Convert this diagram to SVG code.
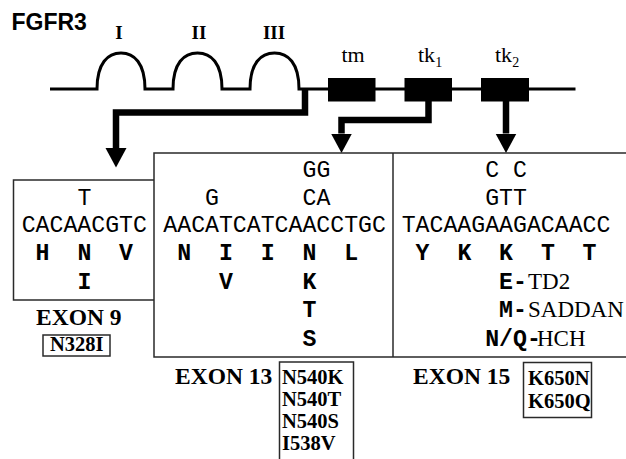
<svg xmlns="http://www.w3.org/2000/svg" width="626" height="459" viewBox="0 0 626 459">
  <style>
    .title { font-family: "Liberation Sans", Arial, sans-serif; font-weight: bold; font-size: 23px; fill: #000; }
    .roman { font-family: "Liberation Serif", "Times New Roman", serif; font-weight: bold; font-size: 19px; text-anchor: middle; fill: #000; }
    .dom { font-family: "Liberation Serif", "Times New Roman", serif; font-size: 22px; fill: #000; }
    .sub { font-size: 14px; }
    .seq { font-family: "Liberation Mono", "Courier New", monospace; font-size: 23.2px; fill: #000; }
    .aa { font-family: "Liberation Mono", "Courier New", monospace; font-size: 23.2px; font-weight: bold; fill: #000; }
    .ann { font-family: "Liberation Serif", "Times New Roman", serif; font-size: 23px; font-weight: normal; fill: #000; }
    .exon { font-family: "Liberation Serif", "Times New Roman", serif; font-weight: bold; font-size: 23.5px; fill: #000; }
    .mut { font-family: "Liberation Serif", "Times New Roman", serif; font-weight: bold; font-size: 20.5px; fill: #000; }
    .frame { fill: none; stroke: #2a2a2a; stroke-width: 1.5; }
    .backbone { fill: none; stroke: #000; stroke-width: 3; }
    .block { fill: #000; }
    .arrow { fill: none; stroke: #000; stroke-width: 6.5; stroke-linejoin: miter; }
  </style>
  <defs>
    <marker id="head" markerUnits="userSpaceOnUse" markerWidth="20" markerHeight="22" refX="0" refY="10.5" orient="auto">
      <path d="M0,0 L19.5,10.5 L0,21 z" fill="#000"/>
    </marker>
  </defs>

  <rect width="626" height="459" fill="#fff"/>

  <!-- receptor schematic -->
  <g id="fgfr3">
    <text class="title" x="11.5" y="30">FGFR3</text>
    <path class="backbone" d="M50,89 H97 C97,63 108,53 121,53 C134,53 145,63 145,89 H173 C173,63 184,53 197.5,53 C211,53 222,63 222,89 H250 C250,63 261,53 274.5,53 C288,53 299,63 299,89 H575.5"/>
    <text class="roman" x="119" y="38.5">I</text>
    <text class="roman" x="199" y="38.5">II</text>
    <text class="roman" x="274" y="38.5">III</text>
  </g>
  <g id="tm">
    <rect class="block" x="328" y="78" width="47.5" height="23.5"/>
    <text class="dom" x="341.5" y="61.5">tm</text>
  </g>
  <g id="tk1">
    <rect class="block" x="404.5" y="78" width="47.5" height="23.5"/>
    <text class="dom" x="418" y="61.5">tk<tspan class="sub" dy="5">1</tspan></text>
  </g>
  <g id="tk2">
    <rect class="block" x="481" y="78" width="48" height="23.5"/>
    <text class="dom" x="495" y="61.5">tk<tspan class="sub" dy="5">2</tspan></text>
  </g>

  <!-- connectors -->
  <g id="connectors">
    <path class="arrow" d="M305,89 V112.5 H116 V148" marker-end="url(#head)"/>
    <path class="arrow" d="M428.5,101 V120 H341.5 V133.5" marker-end="url(#head)"/>
    <path class="arrow" d="M506,101 V133.5" marker-end="url(#head)"/>
  </g>

  <!-- exon 9 -->
  <g id="exon9">
    <polyline class="frame" points="154,180 13.5,180 13.5,300 154,300"/>
    <text class="seq" x="77.4" y="205">T</text>
    <text class="seq" x="21.7" y="232">CACAACGTC</text>
    <text class="aa" x="35.6" y="260">H</text>
    <text class="aa" x="77.4" y="260">N</text>
    <text class="aa" x="119.1" y="260">V</text>
    <text class="aa" x="77.4" y="288.5">I</text>
    <text class="exon" x="36" y="325">EXON 9</text>
    <rect class="frame" x="43" y="335" width="67" height="21"/>
    <text class="mut" x="50" y="351">N328I</text>
  </g>

  <!-- exon 13 -->
  <g id="exon13">
    <polyline class="frame" points="626,153 154,153 154,357 626,357"/>
    <text class="seq" x="302.5" y="177">GG</text>
    <text class="seq" x="205.1" y="205">G</text>
    <text class="seq" x="302.5" y="205">CA</text>
    <text class="seq" x="163.3" y="232">AACATCATCAACCTGC</text>
    <text class="aa" x="177.2" y="260">N</text>
    <text class="aa" x="219" y="260">I</text>
    <text class="aa" x="260.7" y="260">I</text>
    <text class="aa" x="302.5" y="260">N</text>
    <text class="aa" x="344.3" y="260">L</text>
    <text class="aa" x="219" y="288.5">V</text>
    <text class="aa" x="302.5" y="288.5">K</text>
    <text class="aa" x="302.5" y="317">T</text>
    <text class="aa" x="302.5" y="345.5">S</text>
    <text class="exon" x="175" y="384">EXON 13</text>
    <polyline class="frame" points="279.5,460 279.5,362 353.5,362 353.5,460"/>
    <text class="mut" x="282" y="384">N540K</text>
    <text class="mut" x="282" y="406">N540T</text>
    <text class="mut" x="282" y="428">N540S</text>
    <text class="mut" x="282" y="450">I538V</text>
  </g>

  <!-- exon 15 -->
  <g id="exon15">
    <line class="frame" x1="393" y1="153" x2="393" y2="357"/>
    <text class="seq" x="485.2" y="177">C C</text>
    <text class="seq" x="485.2" y="205">GTT</text>
    <text class="seq" x="401.7" y="232">TACAAGAAGACAACC</text>
    <text class="aa" x="415.6" y="260">Y</text>
    <text class="aa" x="457.4" y="260">K</text>
    <text class="aa" x="499.1" y="260">K</text>
    <text class="aa" x="540.9" y="260">T</text>
    <text class="aa" x="582.6" y="260">T</text>
    <text class="aa" x="499.1" y="288.5">E-<tspan class="ann" x="528">TD2</tspan></text>
    <text class="aa" x="499.1" y="317">M-<tspan class="ann" x="528">SADDAN</tspan></text>
    <text class="aa" x="485.2" y="345.5">N/Q-<tspan class="ann" x="537">HCH</tspan></text>
    <text class="exon" x="413" y="384">EXON 15</text>
    <rect class="frame" x="523.5" y="362.5" width="68" height="55"/>
    <text class="mut" x="528" y="385">K650N</text>
    <text class="mut" x="528" y="408">K650Q</text>
  </g>
</svg>
